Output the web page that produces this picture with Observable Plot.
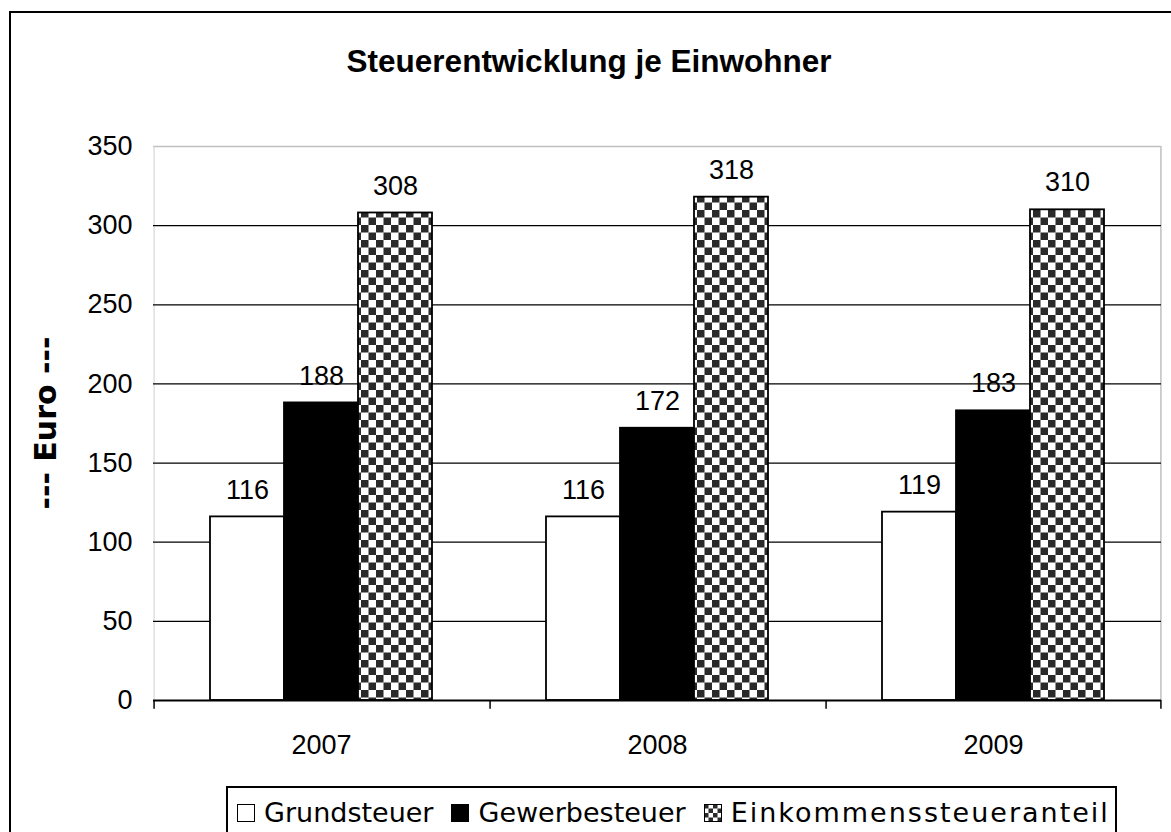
<!DOCTYPE html>
<html>
<head>
<meta charset="utf-8">
<script src="https://cdn.jsdelivr.net/npm/d3@7"></script>
<script src="https://cdn.jsdelivr.net/npm/@observablehq/plot@0.6"></script>
<style>
  html, body { margin: 0; padding: 0; background: #fff; }
  #wrap { position: relative; width: 1171px; height: 832px; overflow: hidden; background: #fff; }
  #border { position: absolute; left: 9px; top: 11px; width: 1300px; height: 1000px; border-left: 2px solid #000; border-top: 2px solid #000; }
  #title { position: absolute; left: 0; top: 43px; width: 1178px; text-align: center; font: bold 31.5px "Liberation Sans", Arial, sans-serif; color: #000; }
  #ylab { position: absolute; left: 45px; top: 423px; width: 0; height: 0; }
  #ylab span { position: absolute; transform: translate(-50%, -50%) rotate(-90deg); white-space: nowrap;
               font: bold 30px "DejaVu Sans", Verdana, sans-serif; color: #000; }
  #chart { position: absolute; left: 0; top: 0; }
  #legend { position: absolute; left: 226px; top: 786px; width: 887px; height: 200px; border: 2px solid #000; background: #fff;
            font: 27px "DejaVu Sans", Verdana, sans-serif; color: #000; }
  .item { position: absolute; top: 9px; display: flex; align-items: center; white-space: nowrap; }
</style>
</head>
<body>
<div id="wrap">
  <div id="border"></div>
  <div id="chart"></div>
  <div id="title">Steuerentwicklung je Einwohner</div>
  <div id="ylab"><span></span></div>
  <div id="legend"></div>
</div>
<script>
// ---- data ----
const years = ["2007", "2008", "2009"];
const series = ["Grundsteuer", "Gewerbesteuer", "Einkommenssteueranteil"];
const grundsteuer = [116, 116, 119];
const gewerbesteuer = [188, 172, 183];
const einkommenssteueranteil = [308, 318, 310];
const yTicks = [0, 50, 100, 150, 200, 250, 300, 350];
const gridValues = [50, 100, 150, 200, 250, 300];
const yLabel = "--- Euro ---";

const valuesBySeries = [grundsteuer, gewerbesteuer, einkommenssteueranteil];
const data = years.flatMap((yr, i) => series.map((s, j) => ({year: yr, series: s, value: valuesBySeries[j][i]})));

// ---- layout ----
const W = 1171, H = 832;
const mL = 152, mR = 9, mT = 146, mB = 132;
const padOuter = 0.747;
const facetW = (W - mL - mR) / years.length;
const step = facetW / (series.length + 2 * padOuter);
const edgeOff = padOuter * step + step / 2; // from first/last band centre to facet edge

const fills = ["#ffffff", "#000000", "url(#checker)"];
const font = "'Liberation Sans', Arial, sans-serif";

const chart = Plot.plot({
  width: W, height: H,
  marginLeft: mL, marginRight: mR, marginTop: mT, marginBottom: mB,
  style: {fontFamily: font, fontSize: "27px", color: "#000", background: "transparent", overflow: "visible"},
  fx: {domain: years, padding: 0, label: null, axis: "bottom", tickSize: 0, tickPadding: 34},
  x: {domain: series, paddingInner: 0, paddingOuter: padOuter, axis: null},
  y: {domain: [0, 350], ticks: yTicks, tickSize: 0, tickPadding: 21, label: null, tickFormat: d => String(d)},
  marks: [
    // frame lines (light grey)
    Plot.ruleY([350], {stroke: "#c0c0c0", strokeWidth: 1.5}),
    Plot.ruleX([years[0]], {fx: d => d, x: () => series[0], dx: -edgeOff, y1: 0, y2: 350, stroke: "#d0d0d0", strokeWidth: 1}),
    Plot.ruleX([years[years.length - 1]], {fx: d => d, x: () => series[series.length - 1], dx: edgeOff, y1: 0, y2: 350, stroke: "#c0c0c0", strokeWidth: 1.5}),
    // gridlines
    Plot.ruleY(gridValues, {stroke: "#000", strokeWidth: 1.2}),
    // bars
    ...series.map((s, j) => Plot.barY(data.filter(d => d.series === s), {
      fx: "year", x: "series", y: "value", fill: fills[j], stroke: "#000", strokeWidth: 1.8
    })),
    // x axis line and category boundary ticks
    Plot.ruleY([0], {stroke: "#000", strokeWidth: 1.8}),
    Plot.ruleX(years, {fx: d => d, x: () => series[0], dx: -edgeOff, y1: 0, y2: -5.5, stroke: "#000", strokeWidth: 1.5}),
    Plot.ruleX([years[years.length - 1]], {fx: d => d, x: () => series[series.length - 1], dx: edgeOff, y1: 0, y2: -5.5, stroke: "#000", strokeWidth: 1.5}),
    // value labels
    Plot.text(data, {fx: "year", x: "series", y: "value", text: d => String(d.value), dy: -27, fontSize: 27, fill: "#000"})
  ]
});

// checker pattern
const ns = "http://www.w3.org/2000/svg";
function addChecker(svg, id, size) {
  const defs = document.createElementNS(ns, "defs");
  const pat = document.createElementNS(ns, "pattern");
  pat.setAttribute("id", id);
  pat.setAttribute("patternUnits", "userSpaceOnUse");
  pat.setAttribute("width", 2 * size);
  pat.setAttribute("height", 2 * size);
  const bg = document.createElementNS(ns, "rect");
  bg.setAttribute("width", 2 * size); bg.setAttribute("height", 2 * size); bg.setAttribute("fill", "#ffffff");
  pat.appendChild(bg);
  for (const [px, py] of [[0, 0], [size, size]]) {
    const r = document.createElementNS(ns, "rect");
    r.setAttribute("x", px); r.setAttribute("y", py);
    r.setAttribute("width", size); r.setAttribute("height", size);
    r.setAttribute("fill", "#2a2a2a");
    pat.appendChild(r);
  }
  defs.appendChild(pat);
  svg.insertBefore(defs, svg.firstChild);
}
addChecker(chart, "checker", 7.5);
document.getElementById("chart").appendChild(chart);

// y axis title
document.querySelector("#ylab span").textContent = yLabel;

// legend
const legend = document.getElementById("legend");
const letterSpacing = ["0px", "0px", "2px"];
let x = 9;
series.forEach((s, j) => {
  const it = document.createElement("div");
  it.className = "item";
  const sw = document.createElementNS(ns, "svg");
  sw.setAttribute("width", 18); sw.setAttribute("height", 18);
  sw.style.marginRight = "9px";
  if (j === 2) addChecker(sw, "checkerLegend", 4.5);
  const r = document.createElementNS(ns, "rect");
  r.setAttribute("x", 0.5); r.setAttribute("y", 0.5); r.setAttribute("width", 17); r.setAttribute("height", 17);
  r.setAttribute("fill", j === 2 ? "url(#checkerLegend)" : fills[j]);
  r.setAttribute("stroke", "#000"); r.setAttribute("stroke-width", 1);
  sw.appendChild(r);
  it.appendChild(sw);
  const t = document.createElement("span");
  t.textContent = s;
  t.style.letterSpacing = letterSpacing[j];
  it.appendChild(t);
  legend.appendChild(it);
  it.style.left = x + "px";
  x += it.getBoundingClientRect().width + 18;
});
</script>
</body>
</html>
